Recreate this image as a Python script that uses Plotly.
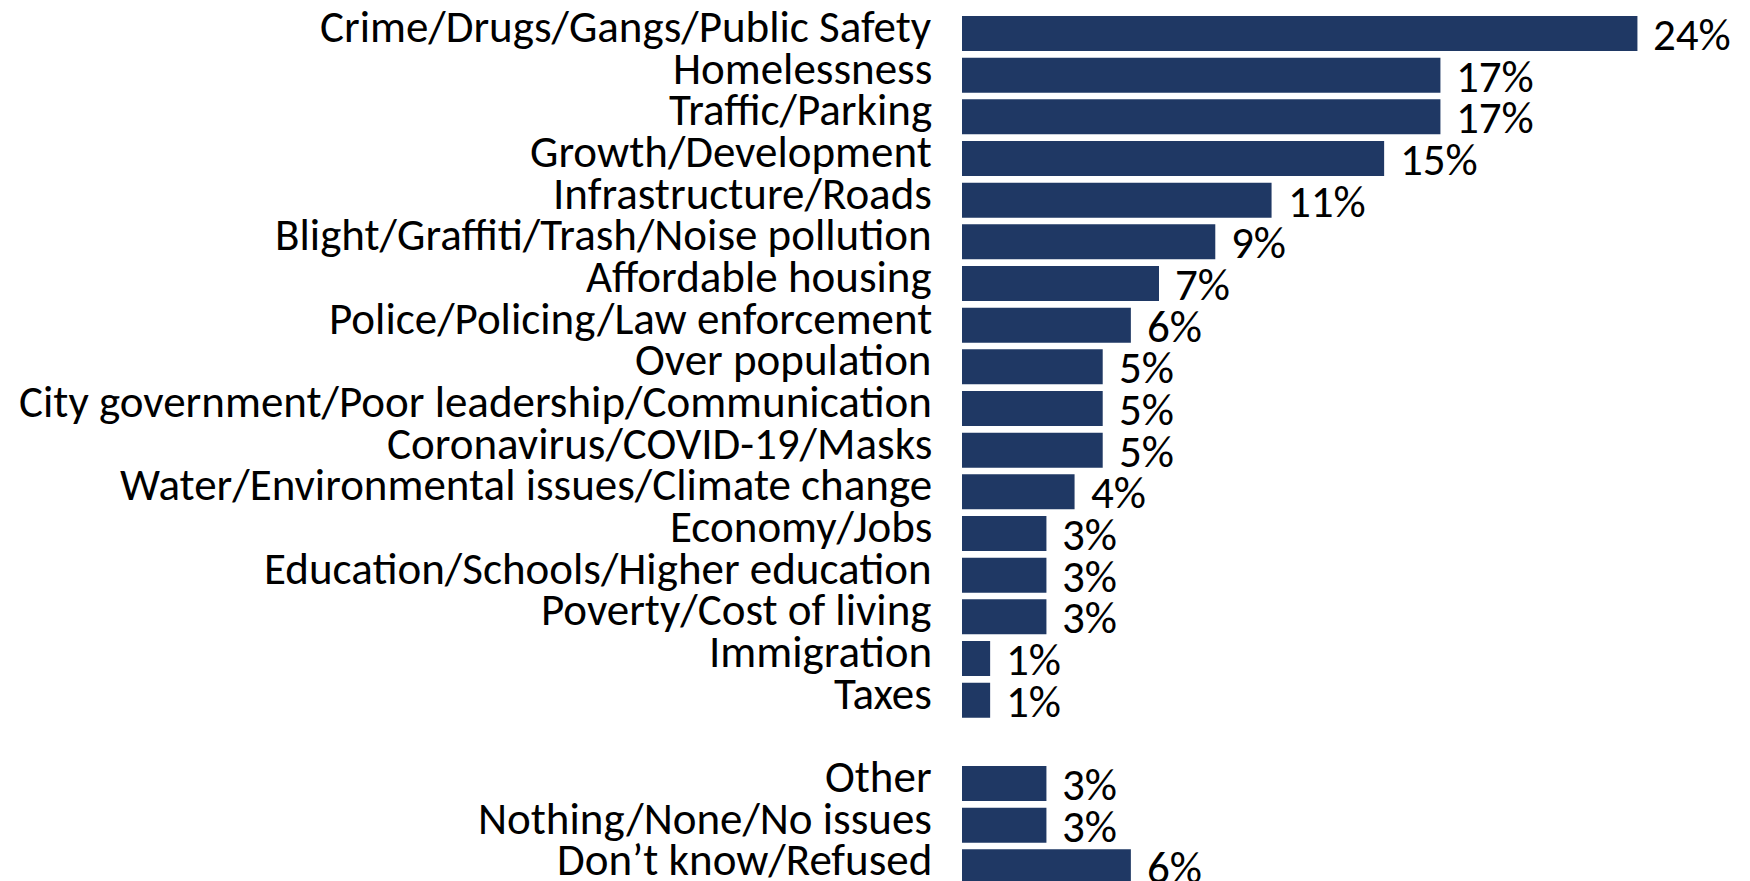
import plotly.graph_objects as go

categories = [
    "Crime/Drugs/Gangs/Public Safety",
    "Homelessness",
    "Traffic/Parking",
    "Growth/Development",
    "Infrastructure/Roads",
    "Blight/Graffiti/Trash/Noise pollution",
    "Affordable housing",
    "Police/Policing/Law enforcement",
    "Over population",
    "City government/Poor leadership/Communication",
    "Coronavirus/COVID-19/Masks",
    "Water/Environmental issues/Climate change",
    "Economy/Jobs",
    "Education/Schools/Higher education",
    "Poverty/Cost of living",
    "Immigration",
    "Taxes",
    "",
    "Other",
    "Nothing/None/No issues",
    "Don\u2019t know/Refused",
]
values = [24, 17, 17, 15, 11, 9, 7, 6, 5, 5, 5, 4, 3, 3, 3, 1, 1, None, 3, 3, 6]

positions = list(range(len(categories)))
bar_color = "#1F3864"
font_family = "Carlito, Calibri, Lato, sans-serif"
fsize = 45

fig = go.Figure()
fig.add_trace(go.Bar(
    x=values, y=positions, orientation="h",
    marker=dict(color=bar_color, line=dict(width=0)),
    width=0.84, hoverinfo="skip",
))

for p, v in zip(positions, values):
    if v is None:
        continue
    fig.add_annotation(x=v, y=p, text=f"{v}%", showarrow=False,
                       xanchor="left", yanchor="middle", xshift=14, yshift=-1,
                       font=dict(family=font_family, size=fsize, color="black"))

for p, c in zip(positions, categories):
    if not c:
        continue
    fig.add_annotation(x=0, xref="paper", y=p, text=c, showarrow=False,
                       xanchor="right", yanchor="middle", xshift=-28, yshift=7,
                       font=dict(family=font_family, size=fsize, color="black"))

fig.update_layout(
    width=1742, height=873,
    margin=dict(l=954, r=0, t=0, b=0, autoexpand=False),
    paper_bgcolor="white", plot_bgcolor="white",
    showlegend=False,
    font=dict(family=font_family, size=fsize, color="black"),
    xaxis=dict(range=[0, 28], visible=False, fixedrange=True),
    yaxis=dict(range=[20.34, -0.612], visible=False, fixedrange=True),
)

fig.write_html("out.html")
